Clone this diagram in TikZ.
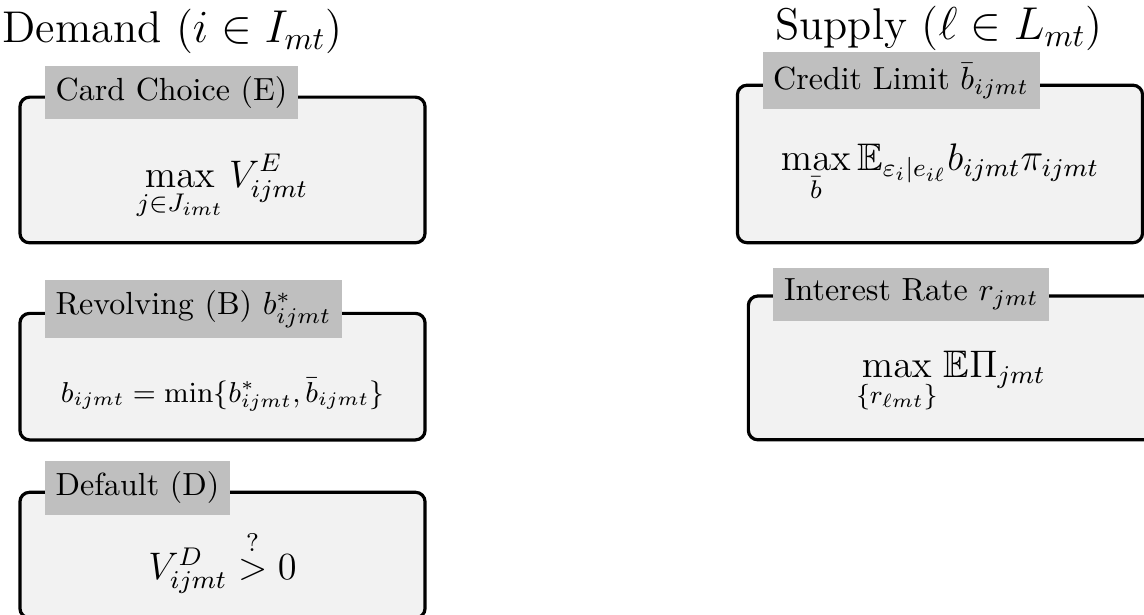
\documentclass[tikz,border=0pt]{standalone}
\usepackage{amsmath,amssymb}
\usepackage{tikz}
\usetikzlibrary{positioning}

\begin{document}
\begin{tikzpicture}[
            problem/.style={draw,rectangle,rounded corners=3pt,line width=1pt,fill=gray!10,minimum width=4.45cm},
            tag/.style={fill=gray!50,anchor=west},
            formula/.style={font=\large},
            heading/.style={font=\fontsize{13.9}{16}\selectfont,inner sep=0,anchor=west}
          ]
          \useasboundingbox (0,0) rectangle (12.566,-6.755);

          %headings
          \node[heading] (dem) at (0.02,-0.345) {Demand ($i \in I_{mt}$)};
          \node[heading] (sup) at (8.51,-0.31) {Supply ($\ell \in L_{mt}$)};

          %demand side
          \node[problem,minimum height=1.6cm] (card) at (2.444,-1.867) {};
          \node[problem,minimum height=1.39cm,below=0.74cm of card] (rev) {};
          \node[problem,minimum height=1.38cm,below=0.54cm of rev] (def) {};

          %supply side
          \node[problem,minimum height=1.73cm] (cred) at (10.325,-1.801) {};
          \node[problem,minimum height=1.58cm,below=0.55cm of cred,xshift=0.12cm] (rate) {};

          %tags
          \node[tag] (cardtag) at ([xshift=0.286cm,yshift=0.03cm]card.north west) {Card Choice (E)};
          \node[tag] (revtag) at ([xshift=0.286cm,yshift=0.03cm]rev.north west) {Revolving (B) $b^*_{ijmt}$};
          \node[tag] (deftag) at ([xshift=0.286cm,yshift=0.03cm]def.north west) {Default (D)};
          \node[tag] (credtag) at ([xshift=0.286cm,yshift=0.03cm]cred.north west) {Credit Limit $\bar{b}_{ijmt}$};
          \node[tag] (ratetag) at ([xshift=0.286cm,yshift=0.0cm]rate.north west) {Interest Rate $r_{jmt}$};

          %objectives
          \node[formula] (cardf) at ([yshift=-0.19cm]card.center) {$\displaystyle\max_{j \in J_{imt}} V^E_{ijmt}$};
          \node[formula,font=\small] (revf) at ([yshift=-0.2cm]rev.center) {$b_{ijmt} = \min\{b^*_{ijmt}, \bar{b}_{ijmt}\}$};
          \node[formula] (deff) at ([yshift=-0.07cm]def.center) {$V^D_{ijmt} \overset{?}{>} 0$};
          \node[formula] (credf) at ([yshift=-0.1cm]cred.center) {$\displaystyle\max_{\bar{b}} \mathbb{E}_{\varepsilon_i|e_{i\ell}} b_{ijmt}\pi_{ijmt}$};
          \node[formula] (ratef) at ([yshift=-0.16cm]rate.center) {$\displaystyle\max_{\{r_{\ell mt}\}} \mathbb{E}\Pi_{jmt}$};

      \end{tikzpicture}
\end{document}
